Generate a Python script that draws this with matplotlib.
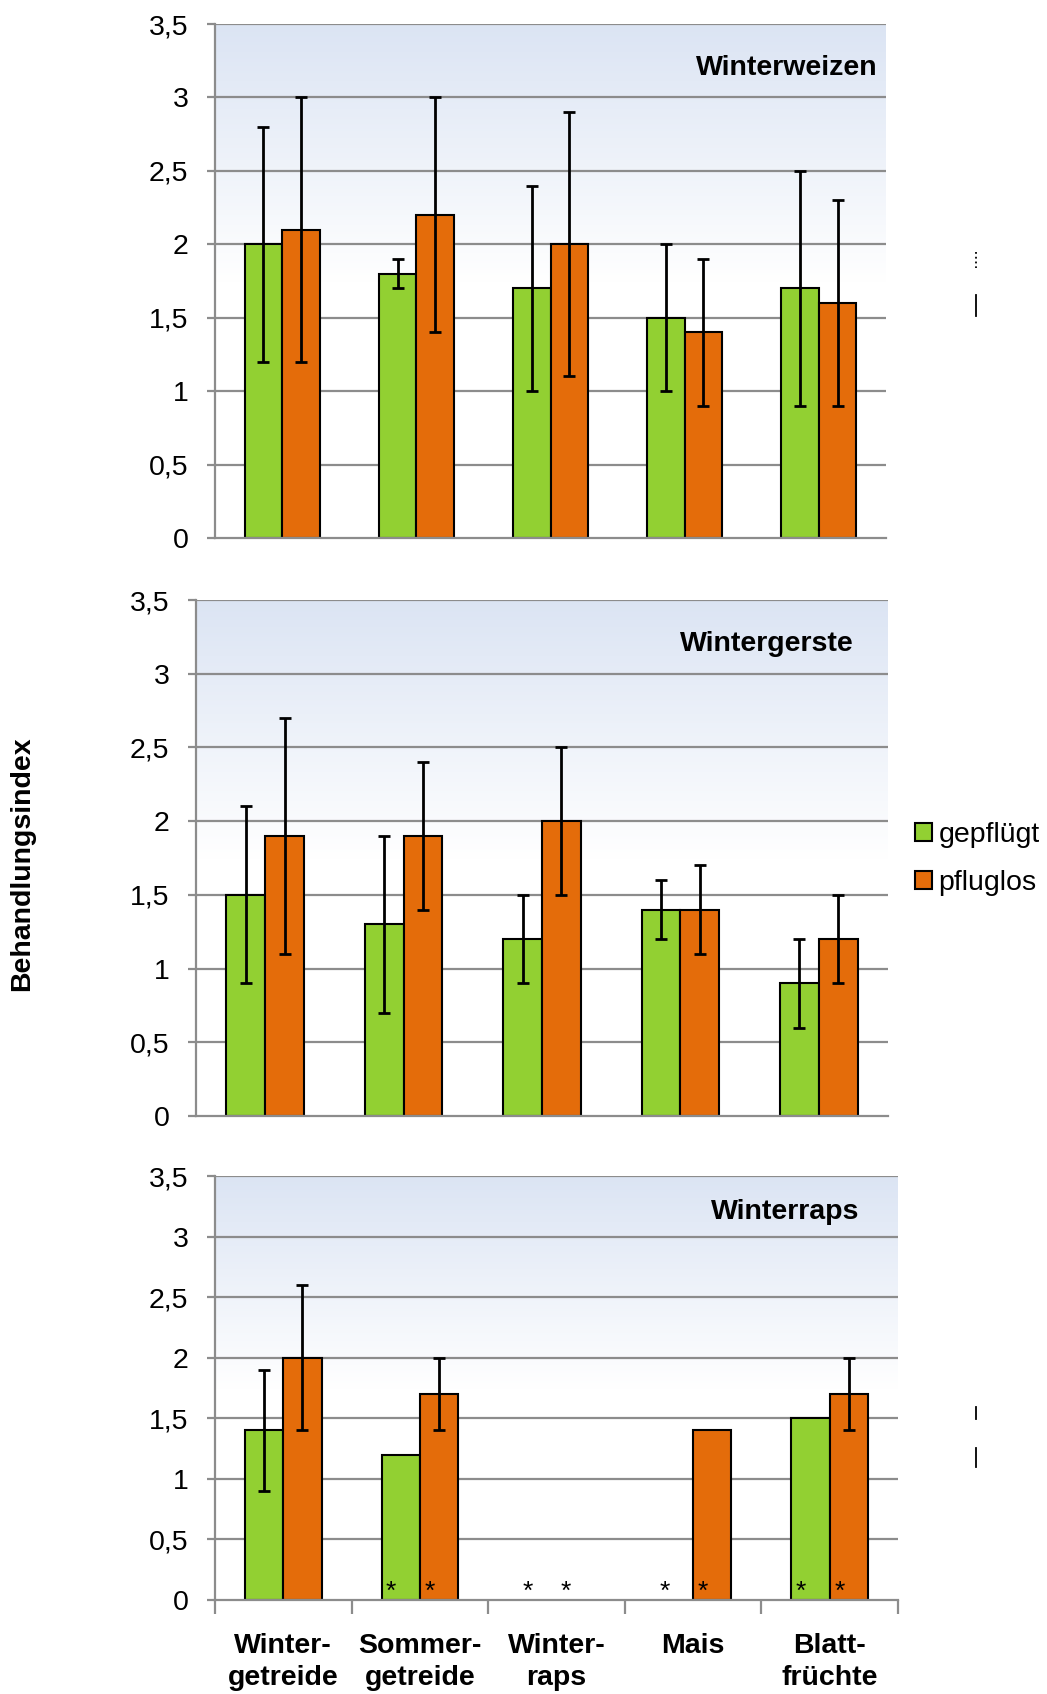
import numpy as np
import matplotlib
matplotlib.use("Agg")
import matplotlib.pyplot as plt
from matplotlib.lines import Line2D
from matplotlib.patches import Patch

plt.rcParams['font.family'] = ['Liberation Sans', 'DejaVu Sans']

categories = ["Winter-\ngetreide", "Sommer-\ngetreide", "Winter-\nraps", "Mais", "Blatt-\nfrüchte"]
series_names = ["gepflügt", "pfluglos"]
colors = ["#92d032", "#e46c0a"]
yticks = [0, 0.5, 1, 1.5, 2, 2.5, 3, 3.5]
ytick_labels = ["0", "0,5", "1", "1,5", "2", "2,5", "3", "3,5"]

# Winterweizen
ww_titel = "Winterweizen"
ww_gepfluegt = [2.0, 1.8, 1.7, 1.5, 1.7]
ww_gepfluegt_err = [0.8, 0.1, 0.7, 0.5, 0.8]
ww_pfluglos = [2.1, 2.2, 2.0, 1.4, 1.6]
ww_pfluglos_err = [0.9, 0.8, 0.9, 0.5, 0.7]

# Wintergerste
wg_titel = "Wintergerste"
wg_gepfluegt = [1.5, 1.3, 1.2, 1.4, 0.9]
wg_gepfluegt_err = [0.6, 0.6, 0.3, 0.2, 0.3]
wg_pfluglos = [1.9, 1.9, 2.0, 1.4, 1.2]
wg_pfluglos_err = [0.8, 0.5, 0.5, 0.3, 0.3]

# Winterraps (nan = kein Wert)
wr_titel = "Winterraps"
wr_gepfluegt = [1.4, 1.2, np.nan, np.nan, 1.5]
wr_gepfluegt_err = [0.5, np.nan, np.nan, np.nan, np.nan]
wr_pfluglos = [2.0, 1.7, np.nan, 1.4, 1.7]
wr_pfluglos_err = [0.6, 0.3, np.nan, np.nan, 0.3]
wr_stern = [False, True, True, True, True]

W, H = 1047, 1694
fig = plt.figure(figsize=(W / 100, H / 100), dpi=100)


def px_axes(l, r, t, b):
    return fig.add_axes([l / W, 1 - b / H, (r - l) / W, (b - t) / H])


def panel(ax, titel, g, ge, p, pe, title_x, stars=None, xlabels=False):
    x = np.arange(len(categories))
    bw = 0.28
    # Hintergrund-Verlauf
    grad = np.ones((200, 1, 3))
    top = np.array([0.86, 0.895, 0.955])
    for i in range(200):
        f = max(0.0, 1 - i / 100)
        grad[i, 0] = 1 - (1 - top) * f
    ax.imshow(grad, extent=[0, 1, 0, 1], transform=ax.transAxes, aspect='auto', zorder=0)
    ax.set_xlim(-0.5, len(categories) - 0.5)
    ax.set_ylim(0, 3.5)
    for yv in yticks[1:]:
        ax.axhline(yv, color="#8c8c8c", lw=1.6, zorder=1)
    ax.bar(x - bw / 2, g, bw, color=colors[0], edgecolor="black", lw=1.5, zorder=3)
    ax.bar(x + bw / 2, p, bw, color=colors[1], edgecolor="black", lw=1.5, zorder=3)
    ax.errorbar(x - bw / 2, g, yerr=ge, fmt='none', ecolor='black', elinewidth=2,
                capsize=4.5, capthick=2, zorder=4)
    ax.errorbar(x + bw / 2, p, yerr=pe, fmt='none', ecolor='black', elinewidth=2,
                capsize=4.5, capthick=2, zorder=4)
    if stars is not None:
        for i, s in enumerate(stars):
            if s:
                for off in (-bw / 2, bw / 2):
                    ax.text(i + off - 0.07, 0.07, "*", ha='center', va='center',
                            fontsize=19, zorder=5)
    ax.set_yticks(yticks)
    ax.set_yticklabels(ytick_labels, fontsize=20.5)
    ax.tick_params(axis='y', length=6, width=1.6, color="#8c8c8c", pad=13)
    for s in ("top", "right"):
        ax.spines[s].set_visible(False)
    for s in ("left", "bottom"):
        ax.spines[s].set_color("#8c8c8c")
        ax.spines[s].set_linewidth(1.6)
        ax.spines[s].set_zorder(6)
    if xlabels:
        ax.set_xticks(np.arange(len(categories) + 1) - 0.5, minor=False)
        ax.set_xticklabels([])
        ax.set_xticks(x, minor=True)
        ax.set_xticklabels(categories, minor=True, fontsize=20.5, fontweight='bold',
                           linespacing=1.3)
        ax.tick_params(axis='x', which='major', length=10, width=1.6, color="#8c8c8c")
        ax.tick_params(axis='x', which='minor', length=0, pad=24)
    else:
        ax.set_xticks([])
    ax.text(title_x, 0.915, titel, transform=ax.transAxes, ha='right', va='center',
            fontsize=20.5, fontweight='bold', zorder=5)


ax1 = px_axes(215, 886, 24, 538)
panel(ax1, ww_titel, ww_gepfluegt, ww_gepfluegt_err, ww_pfluglos, ww_pfluglos_err, 0.988)
ax2 = px_axes(196, 888, 600, 1116)
panel(ax2, wg_titel, wg_gepfluegt, wg_gepfluegt_err, wg_pfluglos, wg_pfluglos_err, 0.951)
ax3 = px_axes(215, 898, 1176, 1600)
panel(ax3, wr_titel, wr_gepfluegt, wr_gepfluegt_err, wr_pfluglos, wr_pfluglos_err, 0.944,
      stars=wr_stern, xlabels=True)

fig.text(22 / W, 1 - 864 / H, "Behandlungsindex", rotation=90, ha='center', va='center',
         fontsize=20.5, fontweight='bold')

handles = [Patch(facecolor=c, edgecolor='black', lw=1.5) for c in colors]
fig.legend(handles, series_names, loc='center left', bbox_to_anchor=(915 / W, 1 - 859 / H),
           frameon=False, fontsize=20.5, handlelength=0.6, handleheight=0.6,
           handletextpad=0.22, labelspacing=0.8, borderaxespad=0, borderpad=0)

# kleine Striche rechts
for y0, y1, ls in [(252, 268, ':'), (295, 316, '-'), (1407, 1419, '-'), (1448, 1467, '-')]:
    fig.add_artist(Line2D([976 / W, 976 / W], [1 - y0 / H, 1 - y1 / H], color='black',
                          lw=1.3, ls=ls))

fig.savefig("out.png", dpi=100)
